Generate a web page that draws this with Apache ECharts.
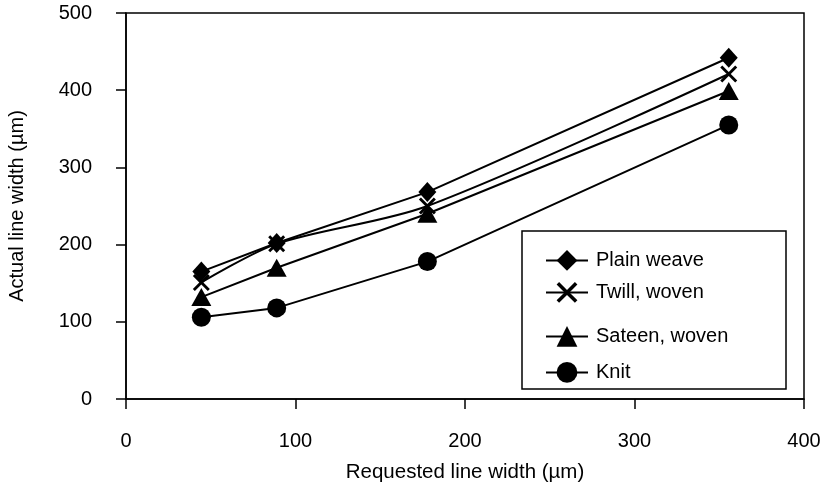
<!DOCTYPE html>
<html>
<head>
<meta charset="utf-8">
<script src="https://cdn.jsdelivr.net/npm/echarts@6/dist/echarts.min.js"></script>
<style>html,body{margin:0;padding:0;background:#fff}#c{width:827px;height:485px}</style>
</head>
<body>
<div id="c"></div>
<script>
const requested = [44.45, 88.9, 177.8, 355.6];
const plainWeave = [165, 202, 268, 442];
const twillWoven = [151, 201, 250, 421];
const sateenWoven = [132, 170, 240, 399];
const knit = [106, 118, 178, 355];
const xTicks = [0, 100, 200, 300, 400];
const yTicks = [0, 100, 200, 300, 400, 500];
const seriesNames = ['Plain weave', 'Twill, woven', 'Sateen, woven', 'Knit'];

const xPath = 'path://M0,1.2L1.2,0L5,3.8L8.8,0L10,1.2L6.2,5L10,8.8L8.8,10L5,6.2L1.2,10L0,8.8L3.8,5Z';
const FONT = 'Liberation Sans, Arial, sans-serif';

function pairs(ys){ return requested.map((x,i)=>[x, ys[i]]); }

const chart = echarts.init(document.getElementById('c'));
const legendCenters = [260, 292, 336, 372];
const legends = seriesNames.map((n,i)=>({
  data:[n], left:545, top:legendCenters[i]-10, orient:'vertical', padding:0,
  itemWidth:42, itemHeight:26, itemGap:0,
  textStyle:{fontFamily:FONT, fontSize:20, color:'#000', padding:[0,0,0,3]}
}));

chart.setOption({
  animation:false,
  backgroundColor:'#fff',
  grid:{left:126, right:23, top:13, bottom:86, containLabel:false, outerBoundsMode:'none',
        show:true, borderColor:'#000', borderWidth:1.5, backgroundColor:'transparent'},
  legend: legends,
  graphic:[{type:'rect', shape:{x:522, y:231, width:264, height:158}, style:{fill:'none', stroke:'#000', lineWidth:1.5}, z:100}],
  xAxis:{
    type:'value', min:0, max:400, interval:100,
    name:'Requested line width (\u00b5m)', nameLocation:'middle', nameGap:63,
    nameTextStyle:{fontFamily:FONT, fontSize:20.5, color:'#000'},
    axisLine:{show:true, lineStyle:{color:'#000', width:1.5}},
    axisTick:{show:true, length:10, lineStyle:{color:'#000', width:1.5}},
    axisLabel:{margin:32, fontFamily:FONT, fontSize:20, color:'#000', showMaxLabel:true, showMinLabel:true},
    splitLine:{show:false}
  },
  yAxis:{
    type:'value', min:0, max:500, interval:100,
    name:'Actual line width (\u00b5m)', nameLocation:'middle', nameGap:99, nameRotate:90,
    nameTextStyle:{fontFamily:FONT, fontSize:20, color:'#000'},
    axisLine:{show:true, lineStyle:{color:'#000', width:1.5}},
    axisTick:{show:true, length:10, lineStyle:{color:'#000', width:1.5}},
    axisLabel:{margin:34, fontFamily:FONT, fontSize:20, color:'#000'},
    splitLine:{show:false}
  },
  series:[
    {name:seriesNames[0], type:'line', data:pairs(plainWeave), symbol:'diamond', symbolSize:[18,20],
     lineStyle:{color:'#000', width:2}, itemStyle:{color:'#000'}, z:4},
    {name:seriesNames[1], type:'line', data:pairs(twillWoven), symbol:xPath, symbolSize:17, smooth:0.3,
     lineStyle:{color:'#000', width:2}, itemStyle:{color:'#000'}, z:3},
    {name:seriesNames[2], type:'line', data:pairs(sateenWoven), symbol:'triangle', symbolSize:[20,18],
     lineStyle:{color:'#000', width:2}, itemStyle:{color:'#000'}, z:2},
    {name:seriesNames[3], type:'line', data:pairs(knit), symbol:'circle', symbolSize:19,
     lineStyle:{color:'#000', width:2}, itemStyle:{color:'#000'}, z:1}
  ]
});
</script>
</body>
</html>
